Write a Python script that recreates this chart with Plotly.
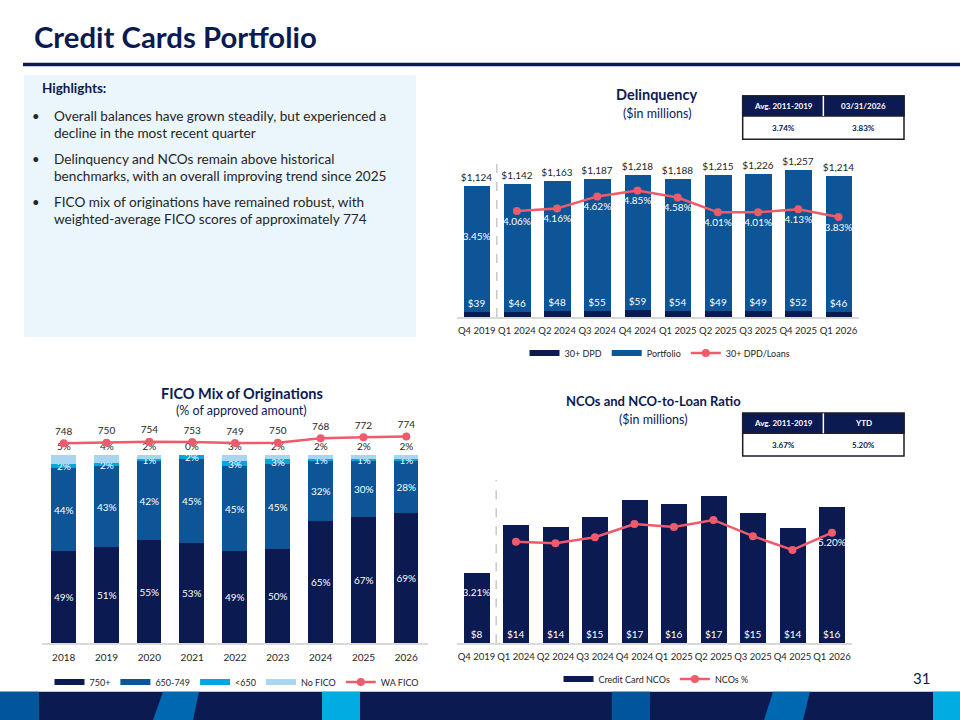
import plotly.graph_objects as go

W, H = 960, 720
def px(x): return x / W
def py(y): return 1 - y / H

FONT = "Lato"
NAVY = "#0c1a52"
MBLUE = "#0d5596"
CYAN = "#00a6df"
LBLUE = "#a8d6f1"
CORAL = "#ef5b6b"
TXT = "#262626"

# ---------------- data ----------------
dq_quarters = ["Q4 2019", "Q1 2024", "Q2 2024", "Q3 2024", "Q4 2024",
               "Q1 2025", "Q2 2025", "Q3 2025", "Q4 2025", "Q1 2026"]
dq_portfolio = [1124, 1142, 1163, 1187, 1218, 1188, 1215, 1226, 1257, 1214]
dq_dpd = [39, 46, 48, 55, 59, 54, 49, 49, 52, 46]
dq_ratio = [3.45, 4.06, 4.16, 4.62, 4.85, 4.58, 4.01, 4.01, 4.13, 3.83]
dq_table_head = ["Avg. 2011-2019", "03/31/2026"]
dq_table_vals = ["3.74%", "3.83%"]

fico_years = ["2018", "2019", "2020", "2021", "2022", "2023", "2024", "2025", "2026"]
fico_750 = [49, 51, 55, 53, 49, 50, 65, 67, 69]
fico_650 = [44, 43, 42, 45, 45, 45, 32, 30, 28]
fico_lt650 = [2, 2, 1, 2, 3, 3, 1, 1, 1]
fico_none = [5, 4, 2, 0, 3, 2, 2, 2, 2]
fico_wa = [748, 750, 754, 753, 749, 750, 768, 772, 774]

nco_quarters = ["Q4 2019", "Q1 2024", "Q2 2024", "Q3 2024", "Q4 2024",
                "Q1 2025", "Q2 2025", "Q3 2025", "Q4 2025", "Q1 2026"]
nco_amount = [8.32, 13.96, 13.73, 14.86, 16.86, 16.44, 17.33, 15.29, 13.56, 16.04]
nco_ratio = [3.21, 4.84, 4.78, 5.02, 5.55, 5.43, 5.71, 5.06, 4.51, 5.20]
nco_table_head = ["Avg. 2011-2019", "YTD"]
nco_table_vals = ["3.67%", "5.20%"]

highlights = [
    ["Overall balances have grown steadily, but experienced a",
     "decline in the most recent quarter"],
    ["Delinquency and NCOs remain above historical",
     "benchmarks, with an overall improving trend since 2025"],
    ["FICO mix of originations have remained robust, with",
     "weighted-average FICO scores of approximately 774"],
]

fig = go.Figure()

# ---------------- Delinquency ----------------
fig.add_trace(go.Bar(
    x=dq_quarters, y=dq_portfolio, marker=dict(color=MBLUE, line=dict(width=0)),
    width=0.66, text=[f"${v:,}" for v in dq_portfolio], textposition="outside",
    textfont=dict(family=FONT, size=10, color=TXT), constraintext="none",
    cliponaxis=False, textangle=0, showlegend=False, xaxis="x", yaxis="y", hoverinfo="skip"))
fig.add_trace(go.Bar(
    x=dq_quarters, y=dq_dpd, marker=dict(color=NAVY, line=dict(width=0)),
    width=0.66, text=[f"${v}" for v in dq_dpd], textposition="outside",
    textfont=dict(family=FONT, size=10, color="white"), constraintext="none",
    cliponaxis=False, textangle=0, showlegend=False, xaxis="x", yaxis="y", hoverinfo="skip"))
fig.add_trace(go.Scatter(
    x=dq_quarters[1:], y=dq_ratio[1:], mode="lines+markers+text",
    line=dict(color=CORAL, width=2.5), marker=dict(color=CORAL, size=8),
    text=[f"{v:.2f}%" for v in dq_ratio[1:]], textposition="bottom center",
    textfont=dict(family=FONT, size=10, color="white"), cliponaxis=False,
    showlegend=False, xaxis="x", yaxis="y2", hoverinfo="skip"))
fig.add_trace(go.Scatter(
    x=dq_quarters[:1], y=dq_ratio[:1], mode="markers+text",
    marker=dict(color="rgba(0,0,0,0)", size=8),
    text=[f"{v:.2f}%" for v in dq_ratio[:1]], textposition="bottom center",
    textfont=dict(family=FONT, size=10, color="white"), cliponaxis=False,
    showlegend=False, xaxis="x", yaxis="y2", hoverinfo="skip"))

# ---------------- FICO ----------------
base1 = fico_750
base2 = [a + b for a, b in zip(fico_750, fico_650)]
base3 = [a + b for a, b in zip(base2, fico_lt650)]
fico_series = [
    (fico_750, [0] * len(fico_750), NAVY, "inside", "white"),
    (fico_650, base1, MBLUE, "inside", "white"),
    (fico_lt650, base2, CYAN, "inside", "white"),
    (fico_none, base3, LBLUE, "outside", TXT),
]
for vals, base, col, pos, tcol in fico_series:
    fig.add_trace(go.Bar(
        x=fico_years, y=vals, base=base, marker=dict(color=col, line=dict(width=0)),
        width=0.58, text=[f"{v}%" for v in vals], textposition=pos,
        insidetextanchor="middle", textangle=0,
        textfont=dict(family=FONT, size=10, color=tcol), constraintext="none",
        cliponaxis=False, showlegend=False, xaxis="x2", yaxis="y3", hoverinfo="skip"))
fig.add_trace(go.Scatter(
    x=fico_years, y=fico_wa, mode="lines+markers+text",
    line=dict(color=CORAL, width=2.5), marker=dict(color=CORAL, size=8),
    text=[str(v) for v in fico_wa], textposition="top center",
    textfont=dict(family=FONT, size=10, color=TXT), cliponaxis=False,
    showlegend=False, xaxis="x2", yaxis="y4", hoverinfo="skip"))

# ---------------- NCO ----------------
fig.add_trace(go.Bar(
    x=nco_quarters, y=nco_amount, marker=dict(color=NAVY, line=dict(width=0)),
    width=0.66, text=[f"${v:.0f}" for v in nco_amount], textposition="inside",
    insidetextanchor="start", textangle=0,
    textfont=dict(family=FONT, size=10, color="white"), constraintext="none",
    cliponaxis=False, showlegend=False, xaxis="x3", yaxis="y5", hoverinfo="skip"))
n_lab = ["" for _ in nco_ratio[1:-1]] + [f"{nco_ratio[-1]:.2f}%"]
fig.add_trace(go.Scatter(
    x=nco_quarters[1:], y=nco_ratio[1:], mode="lines+markers+text",
    line=dict(color=CORAL, width=2.5), marker=dict(color=CORAL, size=8),
    text=n_lab, textposition="bottom center",
    textfont=dict(family=FONT, size=10, color="white"), cliponaxis=False,
    showlegend=False, xaxis="x3", yaxis="y6", hoverinfo="skip"))
fig.add_trace(go.Scatter(
    x=nco_quarters[:1], y=nco_ratio[:1], mode="markers+text",
    marker=dict(color="rgba(0,0,0,0)", size=8),
    text=[f"{v:.2f}%" for v in nco_ratio[:1]], textposition="bottom center",
    textfont=dict(family=FONT, size=10, color="white"), cliponaxis=False,
    showlegend=False, xaxis="x3", yaxis="y6", hoverinfo="skip"))

# ---------------- legend entries ----------------
def leg_bar(name, color, legend, xa, ya):
    fig.add_trace(go.Scatter(x=[None], y=[None], mode="lines", name=name,
                             line=dict(color=color, width=6), legend=legend,
                             xaxis=xa, yaxis=ya, hoverinfo="skip"))
def leg_line(name, legend, xa, ya):
    fig.add_trace(go.Scatter(x=[None], y=[None], mode="lines+markers", name=name,
                             line=dict(color=CORAL, width=2.5),
                             marker=dict(color=CORAL, size=8), legend=legend,
                             xaxis=xa, yaxis=ya, hoverinfo="skip"))

leg_bar("30+ DPD", NAVY, "legend", "x", "y")
leg_bar("Portfolio", MBLUE, "legend", "x", "y")
leg_line("30+ DPD/Loans", "legend", "x", "y")
leg_bar("750+", NAVY, "legend2", "x2", "y3")
leg_bar("650-749", MBLUE, "legend2", "x2", "y3")
leg_bar("<650", CYAN, "legend2", "x2", "y3")
leg_bar("No FICO", LBLUE, "legend2", "x2", "y3")
leg_line("WA FICO", "legend2", "x2", "y3")
leg_bar("Credit Card NCOs", NAVY, "legend3", "x3", "y5")
leg_line("NCOs %", "legend3", "x3", "y5")

# ---------------- axes ----------------
def xax(domain, n, anchor, size):
    return dict(domain=[px(domain[0]), px(domain[1])], type="category",
                range=[-0.5, n - 0.5], showline=True, linecolor="#d9d9d9",
                linewidth=1.5, ticks="", showgrid=False, zeroline=False,
                tickangle=0,
                tickfont=dict(family=FONT, size=size, color=TXT),
                ticklabelstandoff=4, anchor=anchor, fixedrange=True)

def yax(domain, rng):
    return dict(domain=[py(domain[0]), py(domain[1])], range=rng, visible=False,
                showgrid=False, zeroline=False, fixedrange=True)

def y2ax(over, rng, anchor):
    return dict(overlaying=over, range=rng, visible=False, showgrid=False,
                zeroline=False, anchor=anchor, side="right", fixedrange=True)

layout = dict(
    width=W, height=H, margin=dict(l=0, r=0, t=0, b=0),
    paper_bgcolor="white", plot_bgcolor="rgba(0,0,0,0)",
    barmode="overlay", bargap=0,
    uniformtext=dict(minsize=10, mode="show"),
    font=dict(family=FONT, color=TXT),
    xaxis=xax((456.6, 858.6), len(dq_quarters), "y", 9.5),
    yaxis=yax((317, 160), [0, 1347]),
    yaxis2=y2ax("y", [0, 6.015], "x"),
    xaxis2=xax((42.3, 427.7), len(fico_years), "y3", 10),
    yaxis3=yax((643, 418), [0, 119.68]),
    yaxis4=y2ax("y3", [-30.9, 846.6], "x2"),
    xaxis3=xax((456.7, 851.7), len(nco_quarters), "y5", 9.5),
    yaxis5=yax((643.3, 480), [0, 19.21]),
    yaxis6=y2ax("y5", [0.776, 7.308], "x3"),
)
legend_common = dict(orientation="h", xanchor="center", yanchor="middle",
                     font=dict(family=FONT, size=9, color=TXT), bgcolor="rgba(0,0,0,0)",
                     itemwidth=30, traceorder="normal")
layout["legend"] = dict(legend_common, x=px(660), y=py(353))
layout["legend2"] = dict(legend_common, x=px(237), y=py(682))
layout["legend3"] = dict(legend_common, x=px(656), y=py(679))
fig.update_layout(**layout)

# ---------------- shapes & annotations ----------------
shapes = []
anns = []

def ann(x, y, text, size, color, bold=False, xanchor="center", yanchor="middle"):
    anns.append(dict(x=px(x), y=py(y), xref="paper", yref="paper",
                     text=f"<b>{text}</b>" if bold else text, showarrow=False,
                     font=dict(family=FONT, size=size, color=color),
                     xanchor=xanchor, yanchor=yanchor))

def rect(x0, y0, x1, y1, fill, line=None, lw=0, layer="below"):
    shapes.append(dict(type="rect", xref="paper", yref="paper",
                       x0=px(x0), x1=px(x1), y0=py(y1), y1=py(y0),
                       fillcolor=fill, line=dict(color=line or fill, width=lw), layer=layer))

def poly(pts, fill):
    path = "M " + " L ".join(f"{px(a)},{py(b)}" for a, b in pts) + " Z"
    shapes.append(dict(type="path", xref="paper", yref="paper", path=path,
                       fillcolor=fill, line=dict(width=0), layer="above"))

# title
ann(32, 36, "Credit Cards Portfolio", 29.3, NAVY, bold=True, xanchor="left")
shapes.append(dict(type="line", xref="paper", yref="paper", x0=px(23), x1=1,
                   y0=py(64.5), y1=py(64.5), line=dict(color=NAVY, width=3.5)))

# highlights box
rect(24, 75, 416, 337, "#eaf5fc")
ann(40, 88, "Highlights:", 13.5, NAVY, bold=True, xanchor="left")
ys = [(116, 133), (159, 176), (202, 219)]
for lines, (ya, yb) in zip(highlights, ys):
    ann(36, ya, "•", 13, TXT)
    ann(52, ya, lines[0], 13.6, TXT, xanchor="left")
    ann(52, yb, lines[1], 13.6, TXT, xanchor="left")

# chart titles
ann(656.7, 95, "Delinquency", 14.5, NAVY, bold=True)
ann(656.7, 113, "($in millions)", 12.5, NAVY)
ann(241.7, 393.3, "FICO Mix of Originations", 14.5, NAVY, bold=True)
ann(241.7, 410.7, "(% of approved amount)", 12.5, NAVY)
ann(653, 400.7, "NCOs and NCO-to-Loan Ratio", 13, NAVY, bold=True)
ann(653, 419, "($in millions)", 12.5, NAVY)

# tables
def table(x0, x1, y0, ym, y1, head, vals):
    xm = (x0 + x1) / 2
    rect(x0, y0, x1, y1, "white", "#1d1d2b", 1.5, layer="above")
    rect(x0, y0, x1, ym, NAVY, "#1d1d2b", 1.5, layer="above")
    shapes.append(dict(type="line", xref="paper", yref="paper", x0=px(xm), x1=px(xm),
                       y0=py(ym), y1=py(y0), line=dict(color="white", width=1.5)))
    for i, (h, v) in enumerate(zip(head, vals)):
        cx = (x0 + xm) / 2 if i == 0 else (xm + x1) / 2
        ann(cx, (y0 + ym) / 2, h, 8, "white", bold=True)
        ann(cx, (ym + y1) / 2, v, 8, NAVY, bold=True)

table(742.7, 904, 96, 116, 139.3, dq_table_head, dq_table_vals)
table(742.7, 904, 413.3, 433.3, 456, nco_table_head, nco_table_vals)

# dashed separators (between first and second category)
for xr, yr in (("x", "y"), ("x3", "y5")):
    shapes.append(dict(type="line", xref=xr, yref=f"{yr} domain", x0=0.5, x1=0.5,
                       y0=0, y1=1, line=dict(color="#c8c8c8", width=1.5, dash="dash"),
                       layer="below"))

# page number
ann(921, 678, "31", 15, NAVY)

# footer band
rect(0, 691.7, 960, 720, "#0b1a50", layer="above")
rect(0, 691.7, 39, 720, "#00559b", layer="above")
rect(611.7, 691.7, 650, 720, "#00559b", layer="above")
rect(322, 691.7, 360, 720, "#00ace2", layer="above")
rect(933, 691.7, 960, 720, "#00ace2", layer="above")
poly([(163, 691.7), (199, 691.7), (193, 720), (153, 720)], "#0068b1")
poly([(773, 691.7), (810, 691.7), (803, 720), (764, 720)], "#0068b1")

fig.update_layout(shapes=shapes, annotations=anns)

fig.write_html("out.html", config={"displayModeBar": False},
               post_script="document.body.style.margin='0';")
